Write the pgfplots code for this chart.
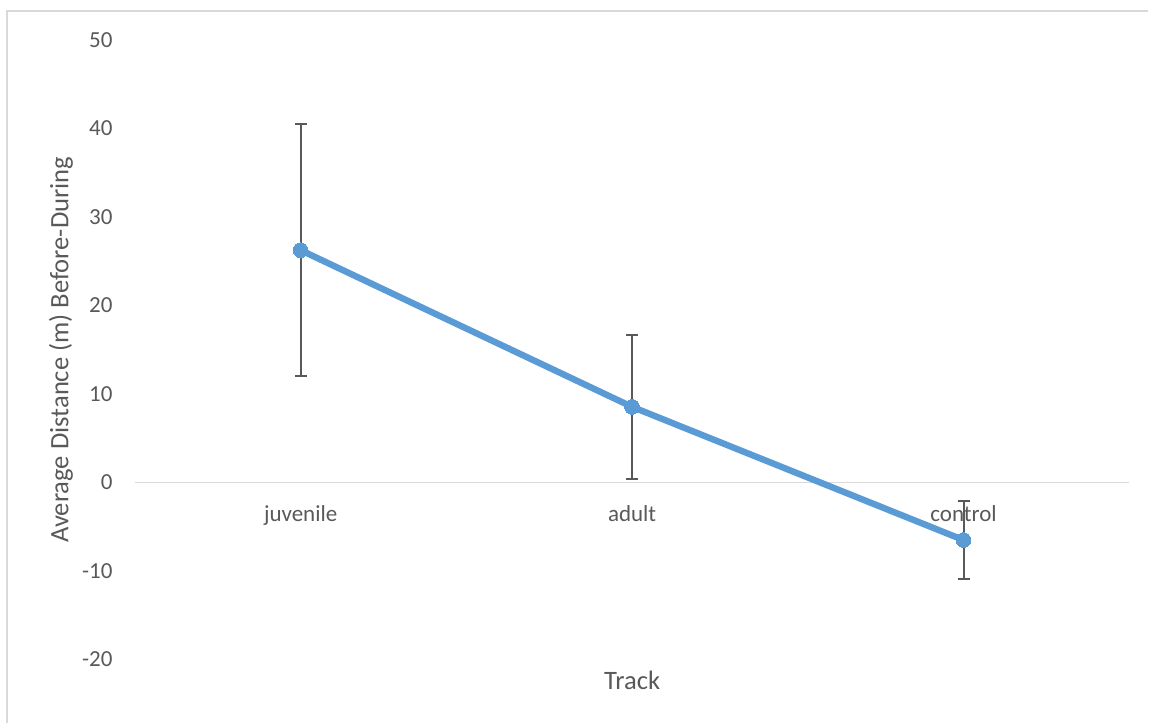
\documentclass[border=0pt]{standalone}
\usepackage{pgfplots}
\pgfplotsset{compat=1.18}
\usepackage{fontspec}
\setmainfont{Carlito}

\definecolor{seriesblue}{HTML}{5B9BD5}
\definecolor{errgray}{HTML}{595959}
\definecolor{textgray}{HTML}{595959}
\definecolor{rulegray}{HTML}{D9D9D9}

\begin{document}
\begin{tikzpicture}
% page area and chart frame
\path (0pt,0pt) rectangle (574.5pt,361.5pt);
\draw[rulegray, line width=0.75pt] (3.5pt,0pt) -- (3.5pt,356pt) -- (574.5pt,356pt);

\begin{axis}[
  at={(67.5pt,31.5pt)}, anchor=south west,
  scale only axis,
  width=497.5pt, height=310pt,
  xmin=-0.5, xmax=2.5,
  ymin=-20, ymax=50,
  ytick={-20,-10,0,10,20,30,40,50},
  xtick={0,1,2},
  xticklabels={juvenile,adult,control},
  axis line style={draw=none},
  major tick length=0pt,
  tick style={draw=none},
  font=\fontsize{11.5}{13}\selectfont,
  tick label style={text=textgray},
  /pgf/number format/assume math mode=true,
  yticklabel style={anchor=east, inner sep=0pt, xshift=-11pt},
  xticklabel style={anchor=base, inner sep=0pt, yshift=69pt},
  xlabel={Track},
  ylabel={Average Distance (m) Before-During},
  xlabel style={at={(axis description cs:0.5,0)}, anchor=base, inner sep=0pt,
    yshift=-15pt, text=textgray, font=\fontsize{13.3}{15}\selectfont},
  ylabel style={at={(axis description cs:0,0.5)}, anchor=center, rotate=0,
    yshift=37pt, text=textgray, font=\fontsize{13.3}{15}\selectfont},
  clip=false,
]
% horizontal axis line at zero
\draw[rulegray, line width=0.9pt] (axis cs:-0.5,0) -- (axis cs:2.5,0);

\addplot[
  seriesblue, line width=3.2pt,
  mark=*, mark size=3.7pt, mark options={fill=seriesblue, draw=seriesblue, line width=0pt},
  error bars/.cd,
    y dir=both, y explicit,
    error bar style={errgray, line width=1pt},
    error mark options={rotate=90, mark size=3pt, line width=1pt, errgray},
] coordinates {
  (0,26.25) +- (0,14.2)
  (1,8.55)  +- (0,8.1)
  (2,-6.5)  +- (0,4.4)
};
\end{axis}
\end{tikzpicture}
\end{document}
